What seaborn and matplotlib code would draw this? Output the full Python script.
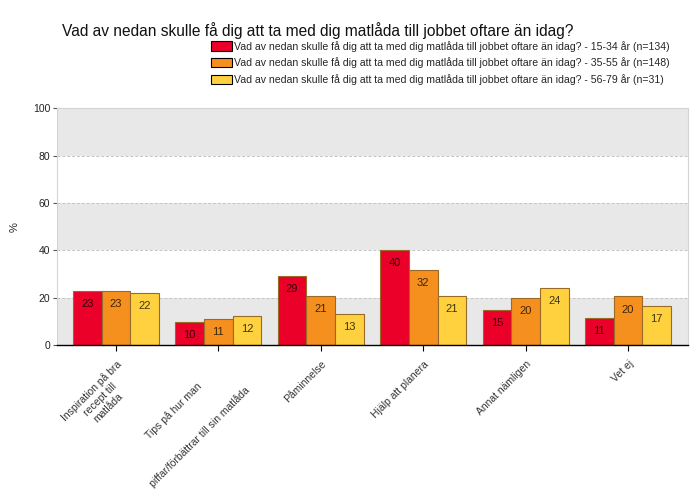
import numpy as np
import pandas as pd
import matplotlib
matplotlib.use("Agg")
import matplotlib.pyplot as plt
import seaborn as sns

# data
categories = ["Inspiration på bra\nrecept till\nmatlåda",
              "Tips på hur man\n\n\npiffar/förbättrar till sin matlåda",
              "Påminnelse",
              "Hjälp att planera",
              "Annat nämligen",
              "Vet ej"]
q = "Vad av nedan skulle få dig att ta med dig matlåda till jobbet oftare än idag?"
groups = [q + " - 15-34 år (n=134)",
          q + " - 35-55 år (n=148)",
          q + " - 56-79 år (n=31)"]
vals_1534 = [22.9, 9.7, 29.1, 40.1, 14.9, 11.4]
vals_3555 = [22.9, 10.8, 20.8, 31.5, 19.8, 20.5]
vals_5679 = [21.9, 12.1, 13.2, 20.8, 23.9, 16.6]
colors = ["#EA0029", "#F5901E", "#FFD13F"]

df = pd.DataFrame({
    "cat": categories * 3,
    "grp": [groups[0]] * 6 + [groups[1]] * 6 + [groups[2]] * 6,
    "val": vals_1534 + vals_3555 + vals_5679,
})

sns.set_style("white")
plt.rcParams['font.family'] = ['Liberation Sans', 'DejaVu Sans']

fig = plt.figure(figsize=(7, 5), dpi=100)
ax = fig.add_axes([0.082, 0.31, 0.901, 0.4734])

# alternating grey bands + dashed grid
for lo in [0, 40, 80]:
    ax.axhspan(lo, lo + 20, color="#E8E8E8", zorder=0, lw=0)
for y in [20, 40, 60, 80]:
    ax.axhline(y, color="#C4C4C4", ls=(0, (3, 2)), lw=0.7, zorder=0.5)

sns.barplot(data=df, x="cat", y="val", hue="grp", palette=colors,
            width=0.84, edgecolor="#9A6A28", linewidth=0.8,
            saturation=1, ax=ax, legend=True, zorder=2)

for cont in ax.containers:
    ax.bar_label(cont, fmt="%.0f", label_type="edge", padding=-13,
                 fontsize=8, color="black", alpha=0.75)

ax.set_ylim(0, 100)
ax.set_xlim(-0.571, 5.586)
ax.set_yticks([0, 20, 40, 60, 80, 100])
ax.tick_params(axis="y", labelsize=7.5, length=3, color="#555555", left=True,
               pad=2, labelcolor="#222222")
ax.tick_params(axis="x", labelsize=7.5, length=4, color="black", bottom=True,
               pad=6, labelcolor="#333333")
ax.set_xticklabels(categories, rotation=45, ha="right", rotation_mode="anchor",
                   multialignment="center")
ax.set_xlabel("")
ax.set_ylabel("%", fontsize=8, labelpad=10)

for s in ["top", "left", "right"]:
    ax.spines[s].set_color("#D4D4D4")
    ax.spines[s].set_linewidth(0.8)
ax.spines["bottom"].set_color("black")
ax.spines["bottom"].set_linewidth(1)

h, l = ax.get_legend_handles_labels()
ax.get_legend().remove()
leg = fig.legend(h, l, loc="upper left", bbox_to_anchor=(0.295, 0.927),
                 frameon=False, handlelength=2.0, handleheight=0.95,
                 handletextpad=0.2, labelspacing=0.55, borderaxespad=0,
                 fontsize=7.6)
for p in leg.get_patches():
    p.set_edgecolor("black")
    p.set_linewidth(0.8)

fig.text(0.088, 0.955, q, fontsize=11.2, va="top", color="#111111")

fig.savefig("out.png", dpi=100)
